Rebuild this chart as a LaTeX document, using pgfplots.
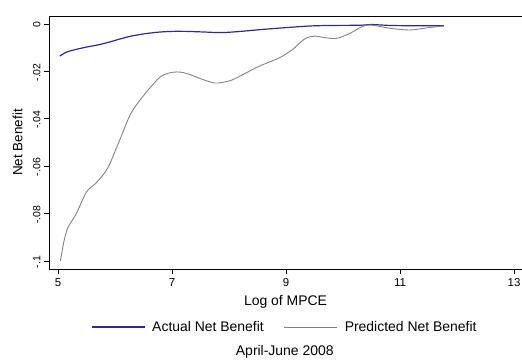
\documentclass[border=0pt]{standalone}
\usepackage{fontspec}
\setmainfont{Liberation Sans}
\usepackage{pgfplots}
\pgfplotsset{compat=1.18}
\definecolor{actblue}{RGB}{45,40,160}
\definecolor{predgray}{RGB}{130,130,130}
\begin{document}
\begin{tikzpicture}
\begin{axis}[
  scale only axis,
  width=473bp, height=253bp,
  xmin=4.84, xmax=13.14,
  ymin=-0.1034, ymax=0.0034,
  axis lines=left,
  axis line style={-, line width=0.8pt},
  tick align=outside,
  major tick length=5bp,
  tick style={black, line width=0.8pt},
  xtick={5,7,9,11,13},
  xticklabels={5,7,9,11,13},
  ytick={-0.1,-0.08,-0.06,-0.04,-0.02,0},
  yticklabels={-.1,-.08,-.06,-.04,-.02,0},
  xticklabel style={font=\fontsize{11.5}{13}\selectfont, anchor=north, yshift=-1bp},
  yticklabel style={font=\fontsize{10.5}{12}\selectfont, rotate=90, anchor=south, xshift=-1bp},
  xlabel={Log of MPCE},
  xlabel style={font=\fontsize{14}{16}\selectfont, at={(axis description cs:0.5,0)}, anchor=base, yshift=-36.5bp},
  legend style={font=\fontsize{14}{16}\selectfont, draw=none, fill=none, at={(axis description cs:0.4985,0)}, anchor=center, yshift=-58bp, legend columns=2, /tikz/every odd column/.append style={column sep=5bp}, /tikz/every even column/.append style={column sep=18bp}},
  legend image code/.code={\draw[#1] (0bp,0bp) -- (53bp,0bp);},
  legend cell align=left,
  clip=false,
]
\addplot[color=actblue, line width=1.2pt, smooth, tension=0.5] coordinates {
(5.03,-0.0135)(5.15,-0.0118)(5.3,-0.0108)(5.5,-0.0097)(5.7,-0.0088)(5.9,-0.0076)(6.1,-0.0062)(6.3,-0.005)(6.55,-0.004)(6.77,-0.0034)(7.0,-0.0031)(7.24,-0.0031)(7.5,-0.0033)(7.87,-0.0036)(8.2,-0.0031)(8.57,-0.0023)(9.0,-0.0015)(9.43,-0.0008)(9.8,-0.0006)(10.3,-0.0005)(10.5,-0.0002)(10.83,-0.0006)(11.2,-0.0007)(11.77,-0.0007)
};
\addlegendentry{Actual Net Benefit}
\addplot[color=predgray, line width=0.9pt, smooth, tension=0.5] coordinates {
(5.04,-0.1)(5.1,-0.092)(5.17,-0.086)(5.32,-0.080)(5.5,-0.0708)(5.67,-0.067)(5.87,-0.0608)(6.08,-0.049)(6.28,-0.0376)(6.54,-0.029)(6.8,-0.0222)(7.0,-0.0204)(7.15,-0.0203)(7.3,-0.0212)(7.55,-0.0235)(7.76,-0.0249)(7.95,-0.0243)(8.1,-0.0231)(8.51,-0.018)(8.86,-0.0145)(9.1,-0.011)(9.33,-0.0062)(9.5,-0.0051)(9.7,-0.0058)(9.9,-0.006)(10.13,-0.0038)(10.3,-0.0015)(10.43,-0.0004)(10.6,-0.0008)(10.83,-0.0018)(11.17,-0.0025)(11.47,-0.0016)(11.77,-0.0008)
};
\addlegendentry{Predicted Net Benefit}
\draw[line width=0.8pt] (rel axis cs:0,1) -- (rel axis cs:1,1);
\node[font=\fontsize{13.5}{15}\selectfont, rotate=90, anchor=center] at ([xshift=-31.5bp]axis description cs:0,0.5) {Net Benefit};
\node[font=\fontsize{14}{16}\selectfont, anchor=center] at ([yshift=-83bp]axis description cs:0.4985,0) {April-June 2008};
\end{axis}
\pgfresetboundingbox
\useasboundingbox ([xshift=-49bp,yshift=-92bp]current axis.south west) rectangle ([yshift=16bp]current axis.north east);
\end{tikzpicture}
\end{document}
